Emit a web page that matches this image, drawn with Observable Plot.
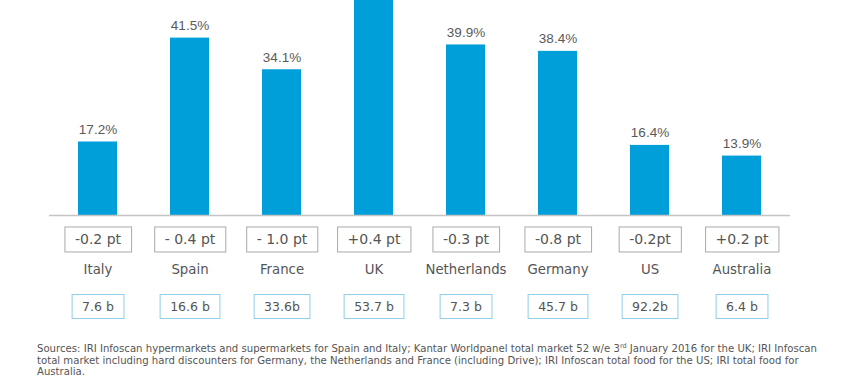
<!DOCTYPE html>
<html><head><meta charset="utf-8">
<script src="https://cdn.jsdelivr.net/npm/d3@7"></script>
<script src="https://cdn.jsdelivr.net/npm/@observablehq/plot@0.6"></script>
<style>
body{margin:0;background:#fff;}
#caption{font-family:"DejaVu Sans",Verdana,sans-serif;font-size:10.15px;line-height:11.5px;color:#555;margin:8px 0 0 37px;white-space:nowrap;}
#caption sup{font-size:6.5px;vertical-align:4px;line-height:0;}
</style></head><body>
<div id="chart"></div>
<div id="caption">Sources: IRI Infoscan hypermarkets and supermarkets for Spain and Italy; Kantar Worldpanel total market 52 w/e 3<sup>rd</sup> January 2016 for the UK; IRI Infoscan<br>total market including hard discounters for Germany, the Netherlands and France (including Drive); IRI Infoscan total food for the US; IRI total food for<br>Australia.</div>
<script>
const countries = ["Italy","Spain","France","UK","Netherlands","Germany","US","Australia"];
const shares = [17.2, 41.5, 34.1, 52.0, 39.9, 38.4, 16.4, 13.9];
// the UK bar runs off the top of the picture, so its label is not shown
const shareLabels = ["17.2%","41.5%","34.1%",null,"39.9%","38.4%","16.4%","13.9%"];
const changes = ["-0.2 pt","- 0.4 pt","- 1.0 pt","+0.4 pt","-0.3 pt","-0.8 pt","-0.2pt","+0.2 pt"];
const sizes = ["7.6 b","16.6 b","33.6b","53.7 b","7.3 b","45.7 b","92.2b","6.4 b"];

const data = countries.map((c, i) => ({country: c, share: shares[i], label: shareLabels[i], change: changes[i], size: sizes[i]}));

const plot = Plot.plot({
  width: 860, height: 335,
  marginTop: 0, marginLeft: 49, marginRight: 70, marginBottom: 120,
  x: {domain: countries, paddingInner: 0.58, paddingOuter: 0.29, axis: null},
  y: {domain: [0, 50.3], axis: null},
  style: {overflow: "hidden", background: "#fff"},
  marks: [
    Plot.barY(data, {x: "country", y: "share", fill: "#009fda"}),
    Plot.ruleY([0], {stroke: "#c4c4c4", strokeWidth: 1.5}),
    Plot.text(data.filter(d => d.label), {x: "country", y: "share", text: "label", dy: -8, lineAnchor: "bottom", fill: "#5a5a5a", fontSize: 13.5, fontFamily: "Liberation Sans, Arial, sans-serif"}),
    Plot.text(data, {x: "country", y: () => 0, text: "change", dy: 24.5, lineAnchor: "middle", fill: "#555", fontSize: 14, fontFamily: "DejaVu Sans, Verdana, sans-serif"}),
    Plot.text(data, {x: "country", y: () => 0, text: "country", dy: 54.5, lineAnchor: "middle", fill: "#555", fontSize: 13.3, fontFamily: "DejaVu Sans, Verdana, sans-serif"}),
    Plot.text(data, {x: "country", y: () => 0, text: "size", dy: 91.5, lineAnchor: "middle", fill: "#555", fontSize: 12.5, fontFamily: "DejaVu Sans, Verdana, sans-serif"})
  ]
});
document.getElementById("chart").appendChild(plot);

// draw frames around the change and market-size labels
const groups = plot.querySelectorAll('g[aria-label="text"]');
function boxes(g, padX, h, stroke) {
  g.querySelectorAll("text").forEach(t => {
    const b = t.getBBox();
    const cy = b.y + b.height / 2;
    const r = document.createElementNS("http://www.w3.org/2000/svg", "rect");
    r.setAttribute("x", b.x - padX);
    r.setAttribute("y", cy - h / 2);
    r.setAttribute("width", b.width + 2 * padX);
    r.setAttribute("height", h);
    r.setAttribute("fill", "none");
    r.setAttribute("stroke", stroke);
    r.setAttribute("stroke-width", 1);
    if (t.getAttribute("transform")) r.setAttribute("transform", t.getAttribute("transform"));
    g.insertBefore(r, t);
  });
}
boxes(groups[1], 10, 25, "#a9a9a9");
boxes(groups[3], 10, 24, "#8fd0e8");
</script>
</body></html>
